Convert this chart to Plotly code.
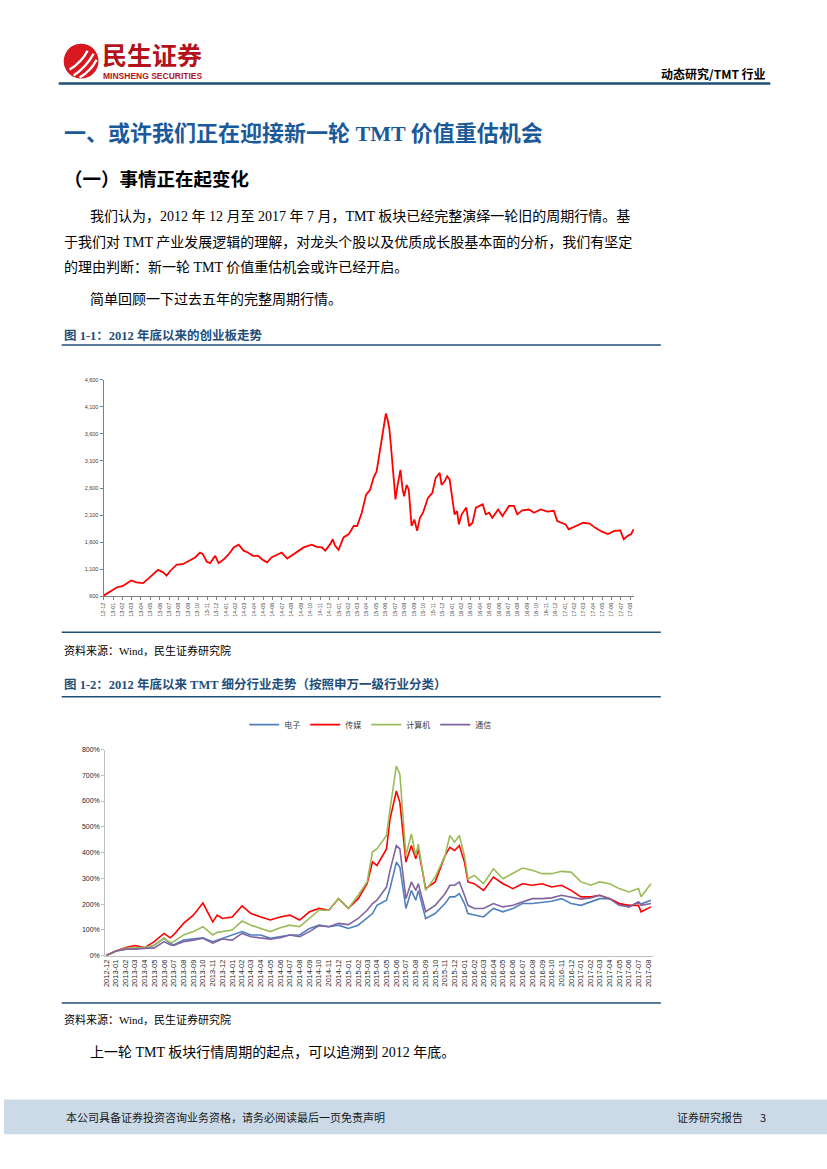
import plotly.graph_objects as go

W, H = 827, 1169

def X(px):
    return px / W

def Y(py):
    return 1 - py / H

# ---------------- data ----------------
MONTHS = ["2012-12", "2013-01", "2013-02", "2013-03", "2013-04", "2013-05", "2013-06", "2013-07",
          "2013-08", "2013-09", "2013-10", "2013-11", "2013-12", "2014-01", "2014-02", "2014-03",
          "2014-04", "2014-05", "2014-06", "2014-07", "2014-08", "2014-09", "2014-10", "2014-11",
          "2014-12", "2015-01", "2015-02", "2015-03", "2015-04", "2015-05", "2015-06", "2015-07",
          "2015-08", "2015-09", "2015-10", "2015-11", "2015-12", "2016-01", "2016-02", "2016-03",
          "2016-04", "2016-05", "2016-06", "2016-07", "2016-08", "2016-09", "2016-10", "2016-11",
          "2016-12", "2017-01", "2017-02", "2017-03", "2017-04", "2017-05", "2017-06", "2017-07",
          "2017-08"]

C1_Y_TICKS = [600, 1100, 1600, 2100, 2600, 3100, 3600, 4100, 4600]

# 创业板指
C1_DATES = ["2012-12-01", "2012-12-31", "2013-01-14", "2013-01-31", "2013-02-21", "2013-03-01",
            "2013-03-17", "2013-04-08", "2013-04-24", "2013-05-10", "2013-05-26", "2013-06-12",
            "2013-06-23", "2013-07-04", "2013-07-25", "2013-08-16", "2013-09-07", "2013-09-23",
            "2013-10-09", "2013-10-18", "2013-10-31", "2013-11-11", "2013-11-27", "2013-12-08",
            "2013-12-24", "2014-01-10", "2014-01-26", "2014-02-11", "2014-02-27", "2014-03-13",
            "2014-03-29", "2014-04-15", "2014-05-01", "2014-05-14", "2014-05-28", "2014-06-14",
            "2014-06-30", "2014-07-18", "2014-08-07", "2014-08-23", "2014-09-09", "2014-10-05",
            "2014-10-21", "2014-11-07", "2014-11-18", "2014-12-04", "2014-12-12", "2014-12-20",
            "2014-12-31", "2015-01-16", "2015-02-02", "2015-02-18",
            "2015-03-01", "2015-03-16", "2015-03-30", "2015-04-12", "2015-04-23", "2015-05-03",
            "2015-05-14", "2015-05-22", "2015-06-02", "2015-06-08", "2015-06-13", "2015-06-18",
            "2015-06-26", "2015-07-03", "2015-07-10", "2015-07-19", "2015-07-26", "2015-07-31",
            "2015-08-08", "2015-08-15", "2015-08-24", "2015-09-02", "2015-09-11", "2015-09-20",
            "2015-09-30", "2015-10-16", "2015-10-30", "2015-11-10", "2015-11-23", "2015-11-29",
            "2015-12-09", "2015-12-17", "2015-12-25", "2016-01-03", "2016-01-10", "2016-01-18",
            "2016-01-24", "2016-02-02", "2016-02-17", "2016-02-26", "2016-03-08", "2016-03-19",
            "2016-04-10", "2016-04-20", "2016-05-01", "2016-05-11", "2016-05-30", "2016-06-13",
            "2016-07-04", "2016-07-20", "2016-07-31", "2016-08-16", "2016-09-07", "2016-09-23",
            "2016-10-14", "2016-11-05", "2016-11-26", "2016-12-07", "2017-01-03", "2017-01-13",
            "2017-02-04", "2017-03-01", "2017-03-22", "2017-04-08", "2017-04-29", "2017-05-20",
            "2017-06-10", "2017-06-29", "2017-07-10", "2017-07-23", "2017-08-03", "2017-08-11"]
C1_VALUES = [615, 710, 770, 790, 860, 895,
             860, 845, 925, 1015, 1090, 1045,
             985, 1065, 1185, 1200, 1270, 1320,
             1410, 1380, 1240, 1215, 1350, 1215,
             1280, 1380, 1505, 1555, 1445, 1410,
             1350, 1350, 1270, 1230, 1320, 1365,
             1410, 1300, 1380, 1445, 1505, 1555,
             1515, 1505, 1445, 1565, 1655, 1535,
             1460, 1690, 1750, 1900,
             1900, 2145, 2480, 2570, 2790, 2910,
             3275, 3580, 3977, 3855, 3700, 3400,
             2910, 2390, 2660, 2935, 2570, 2450,
             2660, 2570, 1900, 2020, 1810, 2050,
             2145, 2420, 2510, 2790, 2880, 2660,
             2725, 2820, 2760, 2360, 2115, 2175,
             1930, 2115, 2240, 1900, 1960, 2240,
             2300, 2115, 2145, 2050, 2205, 2085,
             2270, 2270, 2115, 2190, 2205, 2145,
             2205, 2165, 2180, 1990, 1930, 1840,
             1900, 1960, 1945, 1870, 1800, 1750,
             1810, 1820, 1655, 1720, 1750, 1840]

# TMT 申万一级行业累计涨幅 (%)
C2_DATES = ["2012-12-01", "2013-01-01", "2013-02-01", "2013-03-01", "2013-04-01", "2013-05-01",
            "2013-06-01", "2013-06-20", "2013-07-01", "2013-08-01", "2013-09-01", "2013-10-01",
            "2013-11-01", "2013-11-15", "2013-12-01", "2014-01-01", "2014-02-01", "2014-03-01",
            "2014-04-01", "2014-05-01", "2014-06-01", "2014-07-01", "2014-08-01", "2014-09-01",
            "2014-10-01", "2014-11-01", "2014-12-01", "2015-01-01", "2015-02-01", "2015-03-01",
            "2015-03-18", "2015-04-01", "2015-05-01", "2015-05-12", "2015-06-01", "2015-06-12",
            "2015-07-01", "2015-07-18", "2015-08-01", "2015-08-09", "2015-09-01", "2015-10-01",
            "2015-11-01", "2015-11-16", "2015-12-01", "2015-12-16", "2016-01-01", "2016-01-12",
            "2016-02-01", "2016-03-01", "2016-04-01", "2016-05-01", "2016-06-01", "2016-07-01",
            "2016-08-01", "2016-09-01", "2016-10-01", "2016-11-01", "2016-12-01", "2017-01-01",
            "2017-02-01", "2017-03-01", "2017-04-01", "2017-05-01", "2017-06-01", "2017-07-01",
            "2017-07-09", "2017-08-09"]
ELECTRONICS = [0, 18, 25, 28, 30, 40, 67, 48, 41, 60, 64, 69,
               54, 60, 67, 80, 93, 80, 80, 67, 73, 80, 80, 105,
               118, 112, 118, 105, 118, 144, 163, 195, 215, 260, 363, 343,
               183, 253, 215, 253, 144, 163, 202, 228, 228, 240, 202, 163,
               157, 150, 183, 170, 183, 202, 202, 208, 211, 221, 202, 195,
               208, 221, 221, 202, 189, 208, 200, 215]
MEDIA = [0, 18, 31, 39, 31, 54, 86, 69, 80, 125, 157, 204,
         131, 157, 144, 150, 193, 163, 150, 138, 150, 157, 138, 170,
         183, 176, 221, 183, 221, 279, 364, 350, 414, 530, 639, 594,
         363, 427, 376, 414, 260, 286, 388, 420, 408, 427, 363, 286,
         279, 253, 305, 279, 260, 279, 273, 279, 266, 273, 253, 228,
         228, 234, 221, 202, 195, 195, 170, 189]
COMPUTER = [0, 18, 28, 30, 32, 40, 67, 50, 54, 80, 93, 112,
            80, 90, 93, 99, 134, 118, 105, 93, 108, 118, 112, 144,
            176, 176, 222, 183, 234, 286, 403, 414, 466, 568, 736, 704,
            388, 472, 388, 433, 253, 305, 388, 466, 440, 466, 388, 298,
            311, 279, 337, 298, 318, 340, 331, 318, 318, 327, 324, 286,
            273, 286, 279, 260, 247, 260, 228, 279]
TELECOM = [0, 18, 25, 25, 28, 30, 54, 42, 39, 54, 60, 67,
           48, 55, 64, 60, 86, 73, 67, 64, 69, 80, 73, 93,
           116, 112, 125, 120, 144, 176, 202, 215, 266, 330, 427, 414,
           221, 286, 253, 279, 170, 195, 240, 273, 273, 286, 234, 195,
           183, 183, 202, 189, 195, 208, 221, 221, 224, 234, 228, 219,
           224, 234, 221, 195, 189, 208, 195, 202]
C2_Y_TICKS = [0, 100, 200, 300, 400, 500, 600, 700, 800]

SERIES = [("电子", ELECTRONICS, "#4F81BD"),
          ("传媒", MEDIA, "#FF0000"),
          ("计算机", COMPUTER, "#9BBB59"),
          ("通信", TELECOM, "#8064A2")]

# ---------------- figure ----------------
SERIF = "Liberation Serif, Noto Sans CJK SC"
CJK = "Noto Sans CJK SC"
SANS = "Liberation Sans, Noto Sans CJK SC"

fig = go.Figure()
fig.add_trace(go.Scatter(x=C1_DATES, y=C1_VALUES, mode="lines", xaxis="x", yaxis="y",
                         line=dict(color="#FF0000", width=1.8), showlegend=False,
                         name="创业板指"))
for name, vals, color in SERIES:
    fig.add_trace(go.Scatter(x=C2_DATES, y=vals, mode="lines", xaxis="x2", yaxis="y2",
                             line=dict(color=color, width=1.6), name=name))

tick_dates = [m + "-01" for m in MONTHS]
c1_ticktext = [m[2:] for m in MONTHS]
c2_ytext = [f"{v}%" for v in C2_Y_TICKS]

fig.update_layout(
    width=W, height=H, margin=dict(l=0, r=0, t=0, b=0),
    paper_bgcolor="white", plot_bgcolor="white",
    xaxis=dict(domain=[X(100), X(633)], anchor="y", type="date",
               range=["2012-12-01", "2017-08-12"], tickvals=tick_dates, ticktext=c1_ticktext,
               tickangle=-90, tickfont=dict(size=5.5, family=SANS, color="#404040"),
               showline=True, linecolor="#808080", linewidth=1, ticks="outside", ticklen=3,
               tickcolor="#808080", showgrid=False, zeroline=False, fixedrange=True),
    yaxis=dict(domain=[Y(596), Y(378)], anchor="x", range=[600, 4600], tickvals=C1_Y_TICKS,
               tickformat=",d", tickfont=dict(size=5.5, family=SANS, color="#404040"),
               showline=True, linecolor="#808080", linewidth=1, ticks="outside", ticklen=3,
               tickcolor="#808080", showgrid=False, zeroline=False),
    xaxis2=dict(domain=[X(101.7), X(652)], anchor="y2", type="date",
                range=["2012-11-28", "2017-08-15"], tickvals=tick_dates, ticktext=MONTHS,
                tickangle=-90, tickfont=dict(size=7.5, family=SANS, color="#262626"),
                showline=True, linecolor="#BFBFBF", linewidth=1, ticks="",
                showgrid=False, zeroline=False),
    yaxis2=dict(domain=[Y(957.3), Y(750)], anchor="x2", range=[0, 800], tickvals=C2_Y_TICKS,
                ticktext=c2_ytext, tickfont=dict(size=7, family=SANS, color="#262626"),
                showline=True, linecolor="#BFBFBF", linewidth=1, ticks="outside", ticklen=3,
                tickcolor="#BFBFBF", showgrid=False, zeroline=False),
    legend=dict(orientation="h", x=X(368), xanchor="center", y=Y(725), yanchor="middle",
                font=dict(size=8, family=CJK, color="#404040"), itemwidth=30,
                bgcolor="rgba(0,0,0,0)", tracegroupgap=0),
)

shapes = []
def hline(y, x0, x1, color="#1F4E79", width=1.5):
    shapes.append(dict(type="line", xref="paper", yref="paper", x0=X(x0), x1=X(x1),
                       y0=Y(y), y1=Y(y), line=dict(color=color, width=width)))

hline(80, 55, 770, "#1F4E79", 2.5)
hline(343, 58, 660)
hline(632, 58, 660)
hline(697, 58, 660)
hline(1005, 58, 660)
# footer band
shapes.append(dict(type="rect", xref="paper", yref="paper", x0=0, x1=1, y0=Y(1137), y1=Y(1102),
                   fillcolor="#CCDAE8", line=dict(width=0), layer="below"))
# logo circle + white swooshes
shapes.append(dict(type="circle", xref="paper", yref="paper", x0=X(60), x1=X(95),
                   y0=Y(75), y1=Y(40), fillcolor="#D7191F", line=dict(width=0)))
for (ax, ay, bx, by) in [(66, 66, 84, 47), (70, 72, 90, 50), (76, 74, 93, 56)]:
    shapes.append(dict(type="path", xref="paper", yref="paper",
                       path=f"M {X(ax)},{Y(ay)} Q {X((ax+bx)/2+3)},{Y((ay+by)/2+2)} {X(bx)},{Y(by)}",
                       line=dict(color="white", width=2.4)))
fig.update_layout(shapes=shapes)

ann = []
def text(x, y, s, size, color="#000000", family=SERIF, anchor="left"):
    ann.append(dict(x=X(x), y=Y(y), xref="paper", yref="paper", text=s, showarrow=False,
                    xanchor=anchor, yanchor="middle", font=dict(size=size, color=color, family=family)))

text(96, 50, "<b>民生证券</b>", 25, "#B5121B", CJK)
text(97, 72.5, "<b>MINSHENG SECURITIES</b>", 8.5, "#B5121B", "Liberation Sans")
text(768, 70, "<b>动态研究/TMT 行业</b>", 12, "#000000", CJK, "right")

text(58, 130, "<b>一、或许我们正在迎接新一轮 TMT 价值重估机会</b>", 22, "#1B5A9A")
text(58, 177, "<b>（一）事情正在起变化</b>", 18.5, "#000000")
text(84, 213, "我们认为，2012 年 12 月至 2017 年 7 月，TMT 板块已经完整演绎一轮旧的周期行情。基", 14)
text(58, 239, "于我们对 TMT 产业发展逻辑的理解，对龙头个股以及优质成长股基本面的分析，我们有坚定", 14)
text(58, 265, "的理由判断：新一轮 TMT 价值重估机会或许已经开启。", 14)
text(84, 297, "简单回顾一下过去五年的完整周期行情。", 14)
text(58, 333, "<b>图 1-1：2012 年底以来的创业板走势</b>", 12.5, "#1F4E79")
text(58, 650, "资料来源：Wind，民生证券研究院", 11)
text(58, 685, "<b>图 1-2：2012 年底以来 TMT 细分行业走势（按照申万一级行业分类）</b>", 12.5, "#1F4E79")
text(58, 1022, "资料来源：Wind，民生证券研究院", 11)
text(84, 1055, "上一轮 TMT 板块行情周期的起点，可以追溯到 2012 年底。", 14)
text(60, 1120, "本公司具备证券投资咨询业务资格，请务必阅读最后一页免责声明", 11, "#1a1a1a", CJK)
text(745, 1120, "证券研究报告", 11, "#1a1a1a", CJK, "right")
text(768, 1120, "3", 11, "#1a1a1a", CJK, "right")
fig.update_layout(annotations=ann)

fig.write_html("out.html", config={"displayModeBar": False},
               post_script="document.body.style.margin='0';document.body.style.overflow='hidden';")
